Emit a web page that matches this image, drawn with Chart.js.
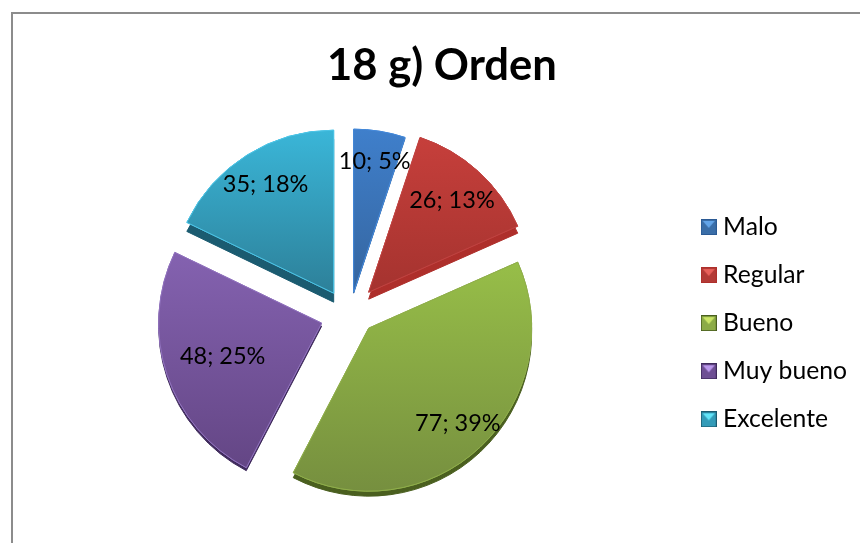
<!DOCTYPE html>
<html>
<head>
<meta charset="utf-8">
<title>18 g) Orden</title>
<script src="https://cdn.jsdelivr.net/npm/chart.js@4"></script>
<style>
html, body { margin: 0; padding: 0; width: 860px; height: 543px; overflow: hidden; background: #fff; }
#frame { position: absolute; left: 11px; top: 12px; width: 860px; height: 543px; border-left: 2px solid #8c8c8c; border-top: 2px solid #8c8c8c; }
#myChart { position: absolute; left: -1px; top: -2px; }
</style>
</head>
<body>
<div id="frame"><canvas id="myChart" width="860" height="543"></canvas></div>
<script>
// Data
const categories = ['Malo', 'Regular', 'Bueno', 'Muy bueno', 'Excelente'];
const values = [10, 26, 77, 48, 35];
const percents = [5, 13, 39, 25, 18];

// Slice colours (top of slice, bottom of slice, side wall, rim)
const colorTop = ['#3f7fcb', '#c63f3b', '#97be48', '#8462b0', '#3ab6d8'];
const colorBottom = ['#35659f', '#a5332f', '#768f3f', '#644685', '#2d8099'];
const colorWall = ['#2b5a94', '#ae2f2b', '#4a5f1f', '#3f2a5c', '#1b5b70'];
const colorRim = ['#4488d8', '#c04240', '#8fae4a', '#9071bd', '#4cc4e6'];
const swatchColor = ['#3a6ea8', '#b33a36', '#8cab46', '#6e4f94', '#339bb8'];
const swatchLight = ['#62a4e8', '#e8605a', '#cbe566', '#bb98ec', '#62e4f8'];

// How far each slice is pulled out, wall depth and label distance
const explodeX = [6, 21, 21, -26, -14];
const explodeY = [-22, -22, 14, 9, -21];
const depth = [1, 7, 5, 3, 9];
const labelRatio = [0.81, 0.76, 0.8, 0.64, 0.785];

const pieRadius = 163;
const legendExtraWidth = 15;
const legendDrop = 9;
const fontName = 'Lato, "Open Sans", sans-serif';

// Arcs are moved out by hand, Chart.js offset also makes the arc bigger
const baseArcDraw = Chart.ArcElement.prototype.draw;
Chart.ArcElement.prototype.draw = function (ctx, area) {
    const i = this.$context.dataIndex;
    ctx.save();
    ctx.translate(explodeX[i], explodeY[i]);
    // wall first, then the top again without shadow
    ctx.save();
    ctx.shadowColor = colorWall[i];
    ctx.shadowBlur = 0;
    ctx.shadowOffsetY = depth[i];
    baseArcDraw.call(this, ctx, area);
    ctx.restore();
    baseArcDraw.call(this, ctx, area);
    ctx.restore();
};

// Vertical gradient that covers just the slice
function sliceGradient(context) {
    const chart = context.chart;
    const i = context.dataIndex;
    if (!chart.chartArea) return colorTop[i];
    const total = values.reduce((sum, v) => sum + v, 0);
    const before = values.slice(0, i).reduce((sum, v) => sum + v, 0);
    const a0 = before / total * Math.PI * 2;
    const a1 = (before + values[i]) / total * Math.PI * 2;
    const ys = [0, -Math.cos(a0), -Math.cos(a1)];
    if (a0 < Math.PI && a1 > Math.PI) ys.push(1);
    const cy = (chart.chartArea.top + chart.chartArea.bottom) / 2;
    const g = chart.ctx.createLinearGradient(0, cy + Math.min(...ys) * pieRadius, 0, cy + Math.max(...ys) * pieRadius);
    g.addColorStop(0, colorTop[i]);
    g.addColorStop(1, colorBottom[i]);
    return g;
}

// Small bevelled legend marker
function makeSwatch(i) {
    const c = document.createElement('canvas');
    c.width = 16;
    c.height = 16;
    const s = c.getContext('2d');
    s.fillStyle = swatchColor[i];
    s.fillRect(0, 0, 16, 16);
    s.fillStyle = swatchLight[i];
    s.beginPath();
    s.moveTo(2, 2);
    s.lineTo(14, 2);
    s.lineTo(8, 9);
    s.closePath();
    s.fill();
    s.strokeStyle = colorWall[i];
    s.strokeRect(0.5, 0.5, 15, 15);
    return c;
}

const sliceLabels = {
    id: 'sliceLabels',
    beforeLayout(chart) {
        // legend takes a bit more room than Chart.js gives it
        const legend = chart.legend;
        if (legend.fitPatched) return;
        const baseFit = legend.fit;
        legend.fit = function () {
            baseFit.call(this);
            this.width += legendExtraWidth;
        };
        legend.fitPatched = true;
    },
    afterLayout(chart) {
        // legend sits a little lower than the pie centre
        chart.legend.top += legendDrop;
        chart.legend.bottom += legendDrop;
    },
    // "value; percent" labels on the slices
    afterDatasetsDraw(chart) {
        const ctx = chart.ctx;
        ctx.save();
        ctx.font = '23.5px ' + fontName;
        ctx.fillStyle = '#000';
        ctx.textAlign = 'center';
        ctx.textBaseline = 'middle';
        chart.getDatasetMeta(0).data.forEach((arc, i) => {
            const mid = (arc.startAngle + arc.endAngle) / 2;
            const r = arc.outerRadius * labelRatio[i];
            ctx.fillText(values[i] + '; ' + percents[i] + '%', arc.x + explodeX[i] + Math.cos(mid) * r, arc.y + explodeY[i] + Math.sin(mid) * r);
        });
        ctx.restore();
    }
};

new Chart(document.getElementById('myChart'), {
    type: 'pie',
    data: {
        labels: categories,
        datasets: [{
            data: values,
            radius: pieRadius,
            backgroundColor: sliceGradient,
            borderColor: colorRim,
            borderWidth: 1,
            hoverOffset: 0
        }]
    },
    options: {
        responsive: false,
        animation: false,
        layout: { padding: { left: 0, right: 0, top: 28, bottom: 29 } },
        plugins: {
            title: {
                display: true,
                text: '18 g) Orden',
                color: '#000',
                font: { family: fontName, size: 43.6, weight: 'bold' },
                padding: { top: 0, bottom: 10 }
            },
            legend: {
                position: 'right',
                fullSize: false,
                labels: {
                    color: '#000',
                    font: { family: fontName, size: 24.7 },
                    usePointStyle: true,
                    boxWidth: 4,
                    boxHeight: 16,
                    padding: 23.4,
                    generateLabels: () => categories.map((name, i) => ({
                        text: name,
                        pointStyle: makeSwatch(i),
                        fontColor: '#000',
                        lineWidth: 0,
                        index: i
                    }))
                }
            },
            tooltip: { enabled: false }
        }
    },
    plugins: [sliceLabels]
});
</script>
</body>
</html>
